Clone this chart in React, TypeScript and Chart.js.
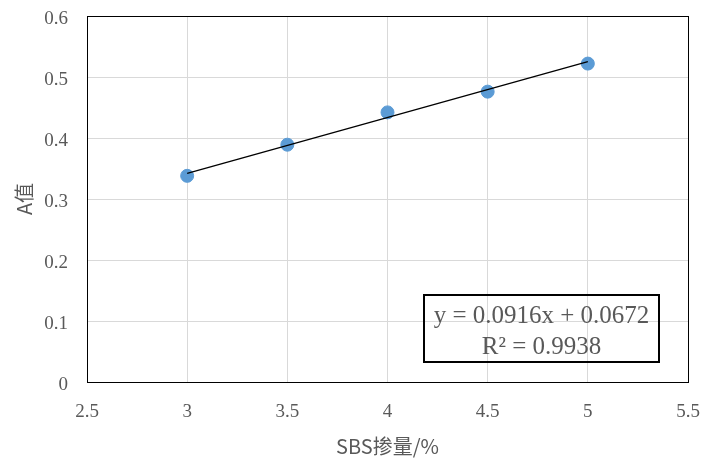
import React, { useEffect, useRef } from "react";
import { Chart, registerables } from "chart.js";

Chart.register(...registerables);

const dosage = [3, 3.5, 4, 4.5, 5];
const aValues = [0.338, 0.389, 0.442, 0.476, 0.522];
const trendX = [3, 5];
const trendY = [0.342, 0.5252];
const equationLines = ["y = 0.0916x + 0.0672", "R\u00B2 = 0.9938"];
const xTitle = "SBS掺量/%";
const yTitle = "A值";

const textColor = "#595959";

const fmt = (v: any) => String(parseFloat(Number(v).toFixed(2)));

const framePlugin = {
  id: "frame",
  afterDatasetsDraw(chart: any) {
    const { ctx, chartArea } = chart;
    ctx.save();
    ctx.strokeStyle = "#000";
    ctx.lineWidth = 1;
    ctx.strokeRect(
      Math.round(chartArea.left) + 0.5,
      Math.round(chartArea.top) + 0.5,
      Math.round(chartArea.right - chartArea.left),
      Math.round(chartArea.bottom - chartArea.top)
    );
    // equation box
    const bx = chartArea.left + 337;
    const by = chartArea.top + 279;
    const bw = 235;
    const bh = 67;
    ctx.lineWidth = 2;
    ctx.strokeRect(bx, by, bw, bh);
    ctx.fillStyle = textColor;
    ctx.font = '25px "Liberation Serif"';
    ctx.textAlign = "center";
    ctx.textBaseline = "middle";
    ctx.fillText(equationLines[0], bx + bw / 2, by + 21);
    ctx.fillText(equationLines[1], bx + bw / 2, by + 52);
    ctx.restore();
  },
};

function noPad(scale: any) {
  scale.paddingTop = 0;
  scale.paddingBottom = 0;
  scale.paddingLeft = 0;
  scale.paddingRight = 0;
}

export default function App() {
  const ref = useRef<HTMLCanvasElement>(null);
  useEffect(() => {
    document.body.style.margin = "0";
    const chart = new Chart(ref.current!, {
      type: "scatter",
      data: {
        datasets: [
          {
            type: "line",
            data: trendX.map((x, i) => ({ x, y: trendY[i] })),
            borderColor: "#000",
            borderWidth: 1.3,
            pointRadius: 0,
            fill: false,
            order: 0,
          } as any,
          {
            data: dosage.map((x, i) => ({ x, y: aValues[i] })),
            backgroundColor: "#5b9bd5",
            borderColor: "#5b9bd5",
            pointRadius: 6.5,
            order: 1,
          },
        ],
      },
      options: {
        animation: false,
        responsive: false,
        layout: { padding: { top: 16, right: 15, left: 0, bottom: 0 } },
        plugins: { legend: { display: false }, tooltip: { enabled: false } },
        scales: {
          x: {
            type: "linear",
            min: 2.5,
            max: 5.5,
            ticks: {
              stepSize: 0.5,
              color: textColor,
              font: { family: "Liberation Serif", size: 19 },
              padding: 19,
              callback: fmt,
            },
            grid: { color: "#d9d9d9", drawTicks: false },
            border: { display: false },
            title: {
              display: true,
              text: xTitle,
              color: textColor,
              font: { family: "Noto Sans CJK SC", size: 20 },
              padding: { top: 3, bottom: 0 },
            },
            afterFit(scale: any) {
              scale.height = 76;
              noPad(scale);
            },
          },
          y: {
            min: 0,
            max: 0.6,
            ticks: {
              stepSize: 0.1,
              color: textColor,
              font: { family: "Liberation Serif", size: 19 },
              padding: 19,
              labelOffset: 3,
              callback: fmt,
            },
            grid: { color: "#d9d9d9", drawTicks: false },
            border: { display: false },
            title: {
              display: true,
              text: yTitle,
              color: textColor,
              font: { family: "Noto Sans CJK SC", size: 20 },
              padding: { top: 12, bottom: 0 },
            },
            afterFit(scale: any) {
              scale.width = 87;
              noPad(scale);
            },
          },
        },
      },
      plugins: [framePlugin],
    });
    return () => chart.destroy();
  }, []);
  return (
    <div style={{ width: 703, height: 458 }}>
      <canvas ref={ref} width={703} height={458} />
    </div>
  );
}
